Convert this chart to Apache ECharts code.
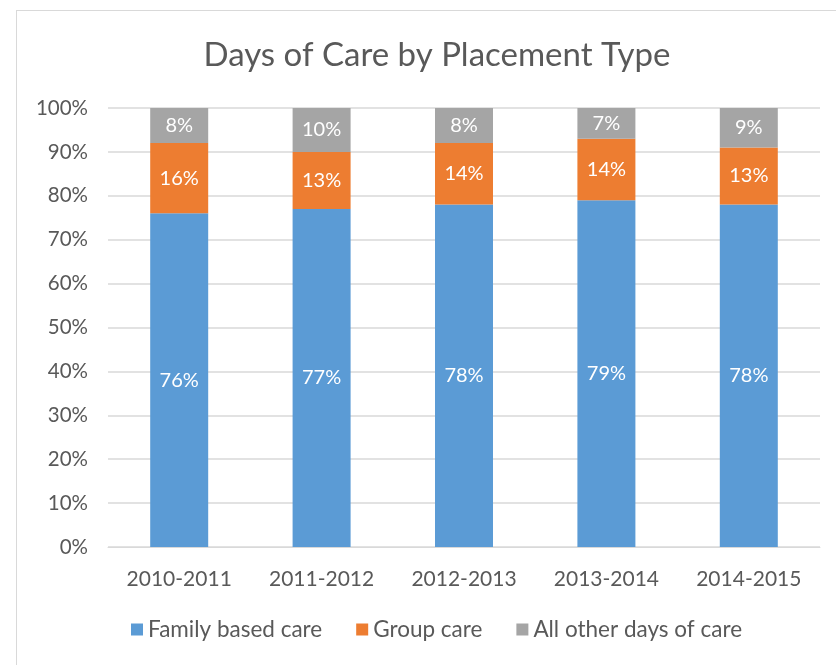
<!DOCTYPE html>
<html>
<head>
<meta charset="utf-8">
<script src="https://cdn.jsdelivr.net/npm/echarts@6/dist/echarts.min.js"></script>
<style>
  html, body { margin: 0; padding: 0; background: #fff; }
  #frame { position: absolute; left: 16px; top: 10px; width: 840px; height: 680px; border: 1px solid #d9d9d9; box-sizing: border-box; }
  #chart { position: absolute; left: 0; top: 0; width: 836px; height: 665px; }
</style>
</head>
<body>
<div id="frame"></div>
<div id="chart"></div>
<script>
var years = ['2010-2011', '2011-2012', '2012-2013', '2013-2014', '2014-2015']
var familyCare = [76, 77, 78, 79, 78]
var groupCare = [16, 13, 14, 14, 13]
var otherCare = [8, 10, 8, 7, 9]
var yTicks = [0, 10, 20, 30, 40, 50, 60, 70, 80, 90, 100]

var font = 'Lato, "Noto Sans", sans-serif'

function makeSeries(name, data, color) {
  return {
    name: name,
    type: 'bar',
    stack: 'total',
    barWidth: 58,
    data: data,
    itemStyle: { color: color },
    label: {
      show: true,
      position: 'inside',
      color: '#fff',
      fontSize: 20,
      fontFamily: font,
      formatter: '{c}%'
    }
  }
}

var chart = echarts.init(document.getElementById('chart'))
chart.setOption({
  animation: false,
  title: {
    text: 'Days of Care by Placement Type',
    left: 432,
    textAlign: 'center',
    top: 34,
    textStyle: { fontSize: 33, fontWeight: 'normal', color: '#595959', fontFamily: font }
  },
  grid: { left: 108, right: 16, top: 108, bottom: 118 },
  legend: {
    bottom: 19,
    left: 126,
    itemWidth: 12,
    itemHeight: 12,
    itemGap: 34,
    icon: 'rect',
    textStyle: { fontSize: 22.5, color: '#595959', fontFamily: font },
    data: ['Family based care', 'Group care', 'All other days of care']
  },
  xAxis: {
    type: 'category',
    data: years,
    axisTick: { show: false },
    axisLine: { lineStyle: { color: '#d9d9d9' } },
    axisLabel: { fontSize: 21, color: '#595959', margin: 22, fontFamily: font }
  },
  yAxis: {
    type: 'value',
    min: yTicks[0],
    max: yTicks[yTicks.length - 1],
    interval: 10,
    axisLabel: { fontSize: 20.5, color: '#595959', margin: 20, fontFamily: font, formatter: '{value}%' },
    splitLine: { lineStyle: { color: '#d9d9d9', width: 1.5 } },
    axisLine: { show: false },
    axisTick: { show: false }
  },
  series: [
    makeSeries('Family based care', familyCare, '#5b9bd5'),
    makeSeries('Group care', groupCare, '#ed7d31'),
    makeSeries('All other days of care', otherCare, '#a5a5a5')
  ]
})
</script>
</body>
</html>
